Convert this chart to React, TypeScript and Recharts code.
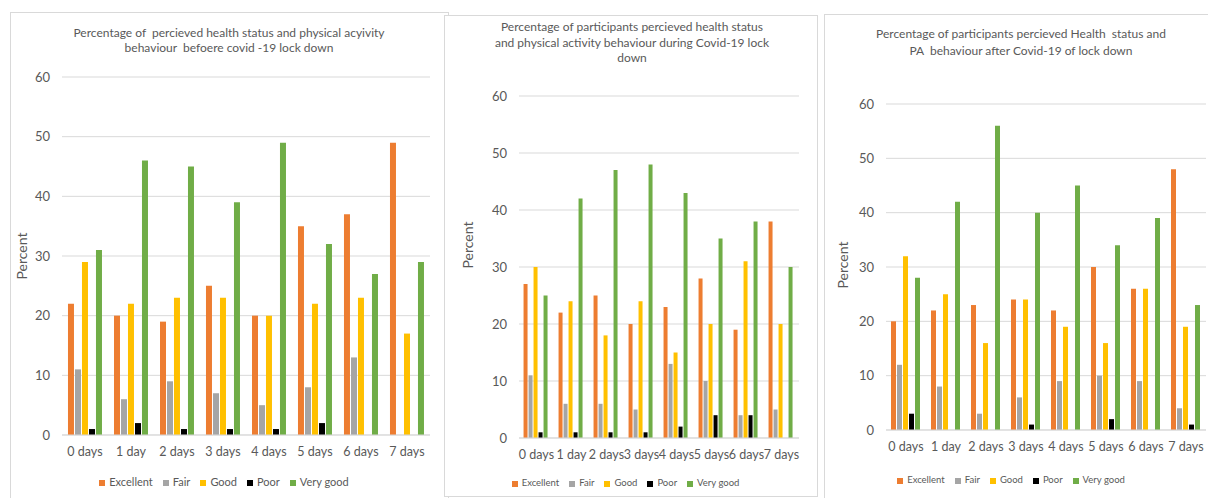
import React from 'react';
import { BarChart, Bar, XAxis, YAxis, CartesianGrid, Legend } from 'recharts';

const categories = ['0 days', '1 day', '2 days', '3 days', '4 days', '5 days', '6 days', '7 days'];
const seriesNames = ['Excellent', 'Fair', 'Good', 'Poor', 'Very good'];
const yTicks = [0, 10, 20, 30, 40, 50, 60];

// Before lockdown
const beforeExcellent = [22, 20, 19, 25, 20, 35, 37, 49];
const beforeFair = [11, 6, 9, 7, 5, 8, 13, 0];
const beforeGood = [29, 22, 23, 23, 20, 22, 23, 17];
const beforePoor = [1, 2, 1, 1, 1, 2, 0, 0];
const beforeVeryGood = [31, 46, 45, 39, 49, 32, 27, 29];

// During lockdown
const duringExcellent = [27, 22, 25, 20, 23, 28, 19, 38];
const duringFair = [11, 6, 6, 5, 13, 10, 4, 5];
const duringGood = [30, 24, 18, 24, 15, 20, 31, 20];
const duringPoor = [1, 1, 1, 1, 2, 4, 4, 0];
const duringVeryGood = [25, 42, 47, 48, 43, 35, 38, 30];

// After lockdown
const afterExcellent = [20, 22, 23, 24, 22, 30, 26, 48];
const afterFair = [12, 8, 3, 6, 9, 10, 9, 4];
const afterGood = [32, 25, 16, 24, 19, 16, 26, 19];
const afterPoor = [3, 0, 0, 1, 0, 2, 0, 1];
const afterVeryGood = [28, 42, 56, 40, 45, 34, 39, 23];

const titleBefore = ['Percentage of  percieved health status and physical acyivity', 'behaviour  befoere covid -19 lock down'];
const titleDuring = ['Percentage of participants percieved health status', 'and physical activity behaviour during Covid-19 lock', 'down'];
const titleAfter = ['Percentage of participants percieved Health  status and', 'PA  behaviour after Covid-19 of lock down'];

const colors = ['#ED7D31', '#A5A5A5', '#FFC000', '#000000', '#70AD47'];
const FONT = 'Lato, "Open Sans", sans-serif';
const TEXT = '#595959';

function buildData(ex: number[], fa: number[], go: number[], po: number[], vg: number[]) {
  return categories.map((c, i) => ({
    name: c,
    Excellent: ex[i],
    Fair: fa[i],
    Good: go[i],
    Poor: po[i],
    'Very good': vg[i],
  }));
}

const dataBefore = buildData(beforeExcellent, beforeFair, beforeGood, beforePoor, beforeVeryGood);
const dataDuring = buildData(duringExcellent, duringFair, duringGood, duringPoor, duringVeryGood);
const dataAfter = buildData(afterExcellent, afterFair, afterGood, afterPoor, afterVeryGood);

type PanelProps = {
  data: any[];
  left: number;
  top: number;
  width: number;
  height: number;
  plotLeft: number;
  plotRight: number;
  plotTop: number;
  plotBottom: number;
  legendTop: number;
  legendFont: number;
  tickFont: number;
  title: string[];
  titleTops: number[];
  titleCenter: number;
  titleFont: number;
  percentX: number;
  percentY: number;
  border: { left: number; top: number; width: number; height: number };
  catGap: string;
};

function Panel(p: PanelProps) {
  const yAxisWidth = 30;
  const margin = {
    top: p.plotTop - p.top,
    left: p.plotLeft - p.left - yAxisWidth,
    right: p.left + p.width - p.plotRight,
    bottom: p.top + p.height - p.plotBottom - 30,
  };
  return (
    <>
      <div
        style={{
          position: 'absolute',
          left: p.border.left,
          top: p.border.top,
          width: p.border.width,
          height: p.border.height,
          border: '1px solid #D9D9D9',
          background: '#fff',
          boxSizing: 'border-box',
        }}
      />
      <div style={{ position: 'absolute', left: p.left, top: p.top, width: p.width, height: p.height }}>
        <BarChart
          width={p.width}
          height={p.height}
          data={p.data}
          margin={margin}
          barGap={1}
          barCategoryGap={p.catGap}
        >
          <CartesianGrid vertical={false} stroke="#D9D9D9" />
          <XAxis
            dataKey="name"
            height={30}
            interval={0}
            tickLine={false}
            tickSize={0}
            tickMargin={12}
            axisLine={{ stroke: '#D9D9D9' }}
            tick={{ fill: TEXT, fontSize: p.tickFont, fontFamily: FONT }}
          />
          <YAxis
            width={yAxisWidth}
            domain={[0, 60]}
            ticks={yTicks}
            tickLine={false}
            axisLine={false}
            tickSize={0}
            tickMargin={12}
            tick={{ fill: TEXT, fontSize: 13, fontFamily: FONT }}
          />
          {seriesNames.map((s, i) => (
            <Bar key={s} dataKey={s} fill={colors[i]} isAnimationActive={false} />
          ))}
          <Legend
            verticalAlign="middle"
            align="center"
            layout="horizontal"
            iconType="square"
            iconSize={6}
            formatter={(v: any) => <span style={{ color: TEXT }}>{v}</span>}
            wrapperStyle={{
              top: p.legendTop - p.top,
              left: 0,
              width: p.width,
              fontSize: p.legendFont,
              fontFamily: FONT,
              lineHeight: '14px',
            }}
          />
        </BarChart>
      </div>
      {p.title.map((t, i) => (
        <div
          key={i}
          style={{
            position: 'absolute',
            left: p.titleCenter - 250,
            width: 500,
            top: p.titleTops[i] - 8,
            height: 16,
            lineHeight: '16px',
            textAlign: 'center',
            whiteSpace: 'pre',
            fontFamily: FONT,
            fontSize: p.titleFont,
            color: TEXT,
          }}
        >
          {t}
        </div>
      ))}
      <div
        style={{
          position: 'absolute',
          left: p.percentX - 40,
          top: p.percentY - 10,
          width: 80,
          height: 20,
          lineHeight: '20px',
          textAlign: 'center',
          transform: 'rotate(-90deg)',
          fontFamily: FONT,
          fontSize: 14,
          color: TEXT,
        }}
      >
        Percent
      </div>
    </>
  );
}

export default function App() {
  return (
    <div style={{ position: 'absolute', left: 0, top: 0, width: 1208, height: 498, background: '#fff', overflow: 'hidden' }}>
      <Panel
        data={dataBefore}
        left={10}
        top={12}
        width={438}
        height={486}
        plotLeft={62}
        plotRight={430}
        plotTop={77}
        plotBottom={435}
        legendTop={475}
        legendFont={11}
        tickFont={12.5}
        title={titleBefore}
        titleTops={[33, 48]}
        titleCenter={229}
        titleFont={12}
        percentX={22}
        percentY={256}
        border={{ left: 10, top: 12, width: 439, height: 500 }}
        catGap="13%"
      />
      <Panel
        data={dataDuring}
        left={444}
        top={15}
        width={373}
        height={483}
        plotLeft={519}
        plotRight={799}
        plotTop={96}
        plotBottom={438}
        legendTop={476}
        legendFont={9.5}
        tickFont={12.5}
        title={titleDuring}
        titleTops={[27, 43, 58]}
        titleCenter={632}
        titleFont={12}
        percentX={468}
        percentY={245}
        border={{ left: 444, top: 15, width: 374, height: 482 }}
        catGap="13%"
      />
      <Panel
        data={dataAfter}
        left={824}
        top={14}
        width={384}
        height={484}
        plotLeft={886}
        plotRight={1206}
        plotTop={104}
        plotBottom={430}
        legendTop={473}
        legendFont={9.5}
        tickFont={12.5}
        title={titleAfter}
        titleTops={[34, 51]}
        titleCenter={1021}
        titleFont={12}
        percentX={843}
        percentY={265}
        border={{ left: 824, top: 14, width: 400, height: 500 }}
        catGap="12.5%"
      />
    </div>
  );
}
